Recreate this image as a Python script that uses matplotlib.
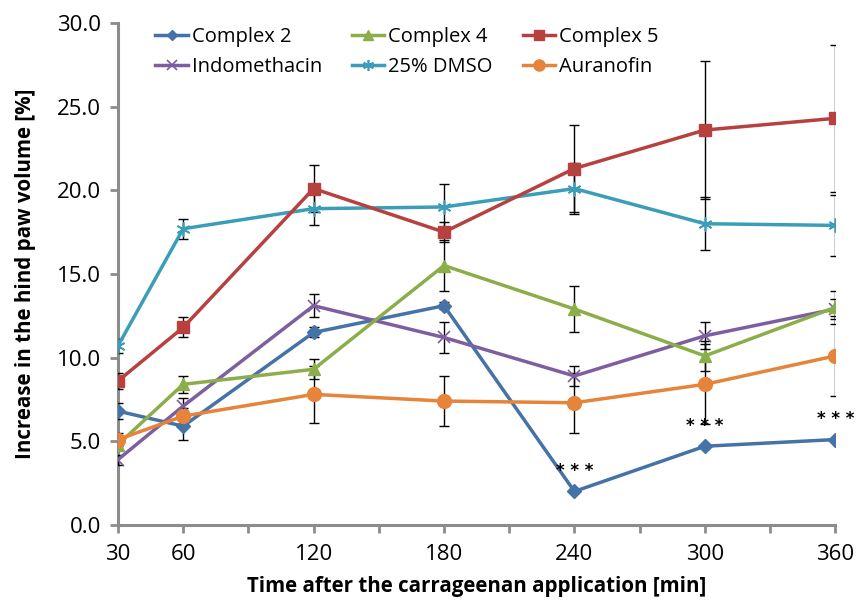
import numpy as np
import matplotlib
matplotlib.use('Agg')
import matplotlib.pyplot as plt

plt.rcParams['font.family'] = ['Open Sans', 'DejaVu Sans']

# 数据
time = [30, 60, 120, 180, 240, 300, 360]

complex2 = [6.8, 5.9, 11.5, 13.1, 2.0, 4.7, 5.1]
complex2_err = [0.5, 0.8, 0.3, 0.2, 0.1, 0.1, 0.1]

complex4 = [4.8, 8.4, 9.3, 15.5, 12.9, 10.1, 13.0]
complex4_err = [0.3, 0.5, 0.6, 1.5, 1.35, 0.9, 1.0]

complex5 = [8.6, 11.8, 20.1, 17.5, 21.3, 23.6, 24.3]
complex5_err = [0.5, 0.6, 1.4, 0.6, 2.6, 4.1, 4.4]

indomethacin = [3.9, 7.1, 13.1, 11.2, 8.9, 11.3, 12.9]
indomethacin_err = [0.3, 0.5, 0.7, 0.9, 0.6, 0.8, 0.6]

dmso = [10.7, 17.7, 18.9, 19.0, 20.1, 18.0, 17.9]
dmso_err = [0.4, 0.6, 1.0, 1.4, 1.5, 1.6, 1.8]

auranofin = [5.1, 6.5, 7.8, 7.4, 7.3, 8.4, 10.1]
auranofin_err = [0.4, 0.5, 1.7, 1.5, 1.8, 2.4, 2.4]

series = [
    ('Complex 2', complex2, complex2_err, '#4572A7', 'D', 7),
    ('Indomethacin', indomethacin, indomethacin_err, '#7D5FA0', 'x', 9),
    ('Complex 4', complex4, complex4_err, '#8BAE4A', '^', 9),
    ('25% DMSO', dmso, dmso_err, '#3C9DB8', (6, 2, 0), 10),
    ('Complex 5', complex5, complex5_err, '#B6413F', 's', 9),
    ('Auranofin', auranofin, auranofin_err, '#E5843A', 'o', 10),
]

fig = plt.figure(figsize=(8.58, 6.04), dpi=100)
ax = fig.add_axes([0.1375, 0.131, 0.836, 0.831])

for name, y, err, color, marker, ms in series:
    ax.errorbar(time, y, yerr=err, fmt='none', ecolor='black', elinewidth=1,
                capsize=3.5, capthick=1, zorder=2)
    if marker in ('x',) or isinstance(marker, tuple):
        ax.plot(time, y, color=color, lw=2.5, marker=marker, ms=ms,
                markeredgewidth=1.2, label=name, zorder=3)
    else:
        ax.plot(time, y, color=color, lw=2.5, marker=marker, ms=ms,
                markeredgecolor=color, label=name, zorder=3)

# 显著性标记
for t, v in zip(time[4:], complex2[4:]):
    ax.text(t, v + 0.7, '* * *', ha='center', va='bottom', fontsize=12,
            fontweight='bold', family='DejaVu Sans')

ax.set_xlim(30, 360)
ax.set_ylim(0, 30)
ax.set_xticks(np.arange(30, 361, 30))
ax.set_xticklabels(['30', '60', '', '120', '', '180', '', '240', '', '300', '', '360'])
ax.set_yticks(np.arange(0, 30.1, 5))
ax.set_yticklabels(['%.1f' % v for v in np.arange(0, 30.1, 5)])

for s in ['top', 'right']:
    ax.spines[s].set_visible(False)
for s in ['left', 'bottom']:
    ax.spines[s].set_color('#8c8c8c')
    ax.spines[s].set_linewidth(2.2)
ax.spines['left'].set_zorder(1)
ax.tick_params(axis='both', direction='out', length=6, width=2, color='#8c8c8c',
               labelsize=16, pad=6)
ax.tick_params(axis='x', pad=8)

ax.set_ylabel('Increase in the hind paw volume [%]', fontsize=14.8, fontweight='bold',
              labelpad=15)
ax.set_xlabel('Time after the carrageenan application [min]', fontsize=14.8,
              fontweight='bold', labelpad=8)

ax.legend(ncol=3, loc='upper left', bbox_to_anchor=(0.16, 0.985),
          bbox_transform=fig.transFigure, frameon=False, fontsize=14.5,
          handlelength=1.6, handletextpad=0.2, columnspacing=1.5,
          labelspacing=0.5, markerscale=0.8)

fig.savefig('out.png', dpi=100)
